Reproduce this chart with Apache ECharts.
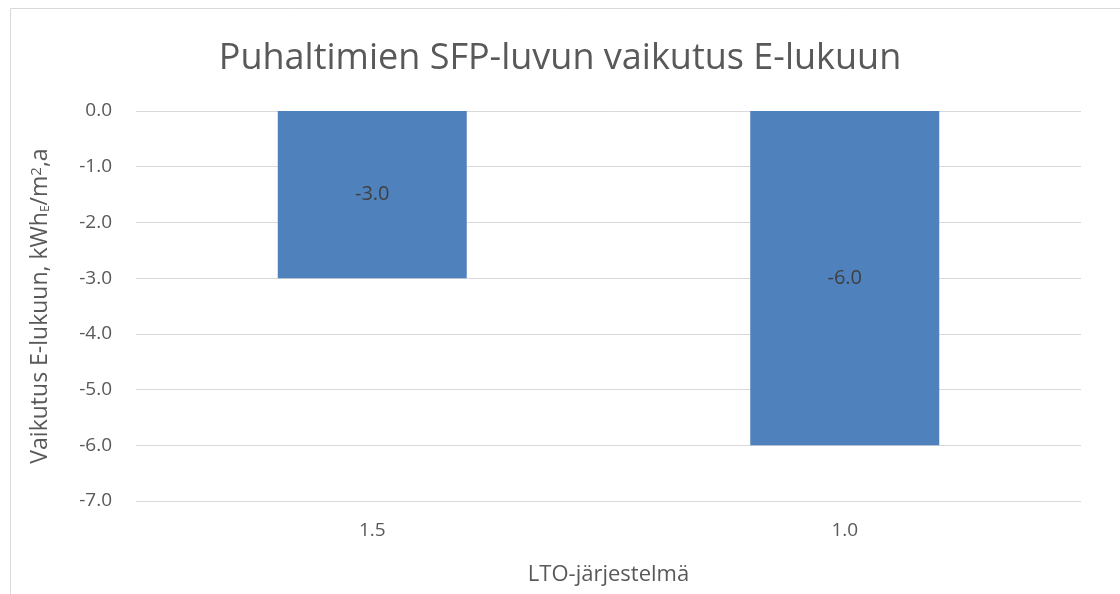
<!DOCTYPE html>
<html><head><meta charset="utf-8">
<script src="https://cdn.jsdelivr.net/npm/echarts@6/dist/echarts.min.js"></script>
<style>html,body{margin:0;padding:0;background:#fff}#c{width:1120px;height:594px}</style>
</head><body><div id="c"></div>
<script>
const categories = ['1.5', '1.0'];
const values = [-3.0, -6.0];
const yTicks = { min: -7, max: 0, interval: 1 };
const titleText = 'Puhaltimien SFP-luvun vaikutus E-lukuun';
const xName = 'LTO-järjestelmä';

const chart = echarts.init(document.getElementById('c'), null, { renderer: 'canvas' });
const font = '"Open Sans", "Noto Sans", sans-serif';
chart.setOption({
  animation: false,
  backgroundColor: '#fff',
  title: {
    text: titleText, left: 'center', top: 36,
    textStyle: { fontFamily: font, fontSize: 36, fontWeight: 'normal', color: '#595959' }
  },
  graphic: [{
    type: 'rect', shape: { x: 10.5, y: 8.5, width: 1200, height: 700 },
    style: { fill: 'none', stroke: '#d9d9d9', lineWidth: 1 }, silent: true, z: -1
  }],
  grid: { left: 136, right: 39, top: 111, bottom: 93, containLabel: false },
  xAxis: {
    type: 'category', data: categories,
    name: xName, nameLocation: 'middle', nameGap: 63,
    nameTextStyle: { fontFamily: font, fontSize: 22, color: '#595959' },
    axisLine: { show: false }, axisTick: { show: false },
    axisLabel: { fontFamily: font, fontSize: 19, color: '#595959', margin: 20 }
  },
  yAxis: {
    type: 'value', min: yTicks.min, max: yTicks.max, interval: yTicks.interval,
    name: 'Vaikutus E-lukuun, kWh{sub|E}/m{sup|2},a',
    nameLocation: 'middle', nameGap: 84, nameRotate: 90,
    nameTextStyle: {
      fontFamily: font, fontSize: 23, color: '#595959',
      rich: {
        sub: { fontFamily: font, fontSize: 12, color: '#595959', verticalAlign: 'bottom', padding: [10, 0, 0, 0] },
        sup: { fontFamily: font, fontSize: 15, color: '#595959', verticalAlign: 'top', padding: [0, 0, 8, 0] }
      }
    },
    axisLine: { show: false }, axisTick: { show: false },
    axisLabel: { fontFamily: font, fontSize: 19, color: '#595959', margin: 24,
      formatter: v => v.toFixed(1) },
    splitLine: { lineStyle: { color: '#d9d9d9', width: 1 } }
  },
  series: [{
    type: 'bar', data: values, barWidth: '40%',
    itemStyle: { color: '#4f81bd' },
    label: { show: true, position: 'inside', fontFamily: font, fontSize: 20, color: '#404040',
      formatter: p => p.value.toFixed(1) }
  }]
});
</script></body></html>
